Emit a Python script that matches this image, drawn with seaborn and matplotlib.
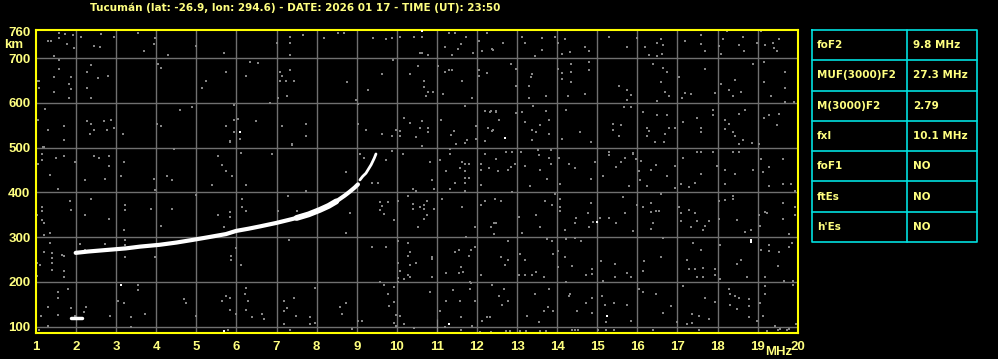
import numpy as np
import pandas as pd
import matplotlib
matplotlib.use("Agg")
import matplotlib.pyplot as plt
import seaborn as sns

# ---------------- data ----------------
title = "Tucumán (lat: -26.9, lon: 294.6) - DATE: 2026 01 17 - TIME (UT): 23:50"
x_ticks = list(range(1, 21))
y_ticks = [100, 200, 300, 400, 500, 600, 700, 760]

# F2 o-trace
o_freq = [1.99, 2.3, 2.7, 3.24, 3.6, 4.08, 4.5, 4.91, 5.3, 5.74, 5.99, 6.3, 6.58,
          7.0, 7.41, 7.8, 8.08, 8.3, 8.49, 8.7, 8.83, 8.95, 9.03]
o_height = [265, 268, 271, 275, 279, 283, 288, 294, 300, 307, 314, 319, 324,
            332, 341, 351, 361, 370, 380, 393, 402, 411, 418]
# thicker middle part of the o-trace
o_thick_freq = [7.5, 7.8, 8.08, 8.3, 8.49]
o_thick_height = [343, 351, 361, 370, 380]
# x-trace
x_freq = [9.08, 9.15, 9.23, 9.36, 9.44, 9.48]
x_height = [428, 436, 443, 462, 477, 486]

# Es-like blob near 2 MHz and vertical bar at 11 MHz
blob_freq = [1.88, 2.15]
blob_height = [120, 120]
bar_freq = [11.0, 11.0]
bar_height = [88, 118]

# isolated white echoes
white_freq = [3.13, 6.09, 12.69, 14.99, 15.24, 10.63, 11.29, 18.84, 18.84, 5.69]
white_height = [194, 535, 521, 334, 125, 761, 105, 293, 289, 90]

# background noise (grey dots), read region by region
noise_f_top_right = [12.40, 12.65, 13.13, 13.19, 13.44, 13.63, 13.63, 13.94, 14.03, 14.19, 14.13, 14.33,
    14.69, 14.79, 15.29, 15.73, 15.98, 16.19, 16.30, 16.48, 16.50, 16.58, 16.61, 16.65, 17.19, 17.58,
    17.58, 17.69, 18.03, 18.13, 18.09, 18.23, 18.53, 18.63, 18.65, 18.98, 19.08, 19.19, 19.38, 19.40,
    19.48, 19.54,
    12.84, 12.98, 12.98, 13.30, 13.34, 13.38, 13.30, 13.73, 14.03, 14.13, 14.13, 14.34, 14.34, 14.34,
    14.26, 14.69, 14.79, 14.79, 15.54, 15.73, 15.73, 15.83, 16.38, 16.63, 16.73, 16.58, 16.69, 16.79,
    16.48, 17.04, 17.19, 17.11, 17.34, 17.69, 17.94, 18.09, 18.28, 18.44, 18.38, 18.59, 18.88, 19.15,
    19.15, 19.34, 19.69, 19.69, 19.69, 19.90,
    12.32, 12.48, 12.55, 12.98, 13.13, 13.19, 13.40, 13.58, 13.73, 13.80, 13.38, 13.48, 13.80, 13.38,
    12.40, 14.13, 14.23, 14.58, 14.84, 15.40, 15.40, 15.59, 15.54, 15.67, 15.83, 16.13, 16.23, 16.30,
    16.23, 16.48, 16.73, 16.69, 16.79, 16.94, 16.44, 16.67, 17.13, 17.48, 17.59, 17.59, 17.88, 17.88,
    18.19, 18.19, 18.28, 18.38, 18.44, 18.53, 18.69, 18.63, 18.53, 18.86, 19.03, 19.15, 19.29, 19.54,
    19.48,
    12.73, 12.88, 13.09, 13.53, 13.84, 15.29, 15.88, 17.48, 17.58, 17.88, 18.38, 18.53]
noise_h_top_right = [719, 735, 748, 735, 704, 746, 719, 748, 735, 743, 709, 713,
    724, 716, 748, 726, 746, 726, 707, 705, 734, 743, 709, 730, 739, 752,
    731, 715, 728, 743, 709, 761, 730, 747, 716, 734, 761, 730, 734, 722,
    717, 743,
    687, 675, 638, 638, 657, 665, 612, 616, 675, 668, 653, 687, 669, 646,
    616, 620, 692, 674, 638, 629, 607, 618, 687, 679, 669, 647, 625, 616,
    605, 657, 623, 612, 620, 676, 623, 642, 629, 652, 616, 625, 687, 692,
    647, 616, 669, 633, 602, 603,
    579, 579, 562, 577, 579, 558, 594, 550, 583, 562, 539, 535, 530, 517,
    539, 520, 585, 535, 512, 552, 539, 551, 526, 590, 590, 579, 544, 538,
    526, 573, 573, 530, 545, 544, 512, 512, 557, 566, 544, 535, 585, 572,
    562, 542, 552, 535, 526, 575, 585, 517, 509, 510, 508, 567, 572, 575,
    550,
    491, 491, 491, 495, 495, 491, 488, 491, 491, 491, 491, 491]

noise_f_mid_right = [12.48, 12.53, 12.73, 12.78, 12.84, 12.94, 13.19, 13.33, 13.55, 13.58, 13.75, 13.80,
    13.84, 14.05, 14.08, 14.29, 14.44, 14.84, 14.94, 15.15, 15.29, 15.48, 15.59, 15.69, 15.80, 15.90,
    15.96, 16.03, 16.08, 16.07, 16.23, 16.34, 16.46, 16.75, 16.94, 16.94, 17.08, 17.13, 17.29, 17.43,
    17.48, 17.58, 17.88, 17.99, 18.19, 18.19, 18.44, 18.53, 18.88, 19.08, 19.13, 19.29, 19.29, 19.63,
    19.63, 19.84, 19.94,
    12.44, 12.59, 12.47, 12.88, 13.05, 13.13, 13.48, 13.58, 13.69, 13.86, 13.94, 14.08, 14.08, 14.08,
    14.19, 14.44, 14.48, 14.78, 14.84, 14.79, 14.90, 15.07, 15.29, 15.48, 15.63, 15.69, 15.90, 15.98,
    16.15, 16.34, 16.34, 16.46, 16.54, 16.38, 16.33, 16.63, 16.59, 17.04, 17.08, 17.08, 17.29, 17.43,
    17.48, 17.34, 17.63, 17.79, 17.69, 18.03, 18.03, 18.19, 18.38, 18.38, 18.48, 18.69, 18.84, 19.03,
    19.05, 19.19, 19.23, 19.63, 19.63, 19.94, 19.94, 19.78,
    12.78, 12.61, 12.78, 12.69, 13.07, 13.19, 13.05, 13.19, 13.38, 13.48, 13.68, 13.75, 13.88, 13.90,
    14.03, 14.03, 14.19, 14.23, 14.38, 14.44, 14.59, 14.73, 14.88, 14.88, 15.09, 15.15, 15.44, 15.44,
    15.73, 15.83, 16.17, 16.13, 16.59, 17.23, 17.29, 17.38, 17.43, 17.58, 17.63, 17.48, 17.65, 17.94,
    17.94, 18.05, 18.07, 18.48, 18.58, 18.73, 19.09, 19.19, 19.28, 19.29, 19.50, 19.53, 19.78, 19.86,
    19.65, 19.88]
noise_h_mid_right = [474, 448, 491, 451, 457, 463, 459, 414, 483, 451, 429, 478,
    463, 478, 418, 463, 454, 431, 469, 437, 483, 456, 469, 478, 414, 486,
    474, 448, 471, 428, 414, 450, 461, 437, 459, 409, 419, 478, 413, 421,
    491, 442, 491, 459, 419, 450, 442, 491, 450, 474, 446, 456, 414, 475,
    419, 419, 404,
    385, 381, 332, 401, 346, 310, 349, 323, 381, 372, 396, 385, 368, 358,
    317, 332, 342, 353, 377, 323, 334, 342, 342, 332, 389, 353, 314, 371,
    368, 377, 357, 359, 359, 332, 318, 299, 396, 368, 353, 337, 360, 353,
    337, 322, 317, 337, 324, 381, 340, 384, 391, 385, 339, 312, 317, 349,
    326, 357, 355, 377, 340, 368, 349, 307,
    292, 256, 249, 238, 262, 249, 215, 215, 215, 223, 212, 295, 292, 262,
    270, 234, 255, 295, 235, 299, 292, 215, 230, 217, 247, 203, 239, 212,
    220, 212, 247, 225, 256, 250, 230, 287, 230, 271, 232, 210, 210, 230,
    215, 282, 206, 239, 249, 210, 272, 210, 269, 282, 235, 267, 277, 287,
    203, 203]

noise_f_bottom = [1.08, 1.13, 1.30, 1.30, 1.54, 1.54, 1.54, 1.79, 1.88, 1.98, 2.19, 2.25, 2.84,
    3.04, 3.19, 3.38, 3.38, 3.54, 3.54, 3.73, 4.69, 4.73, 4.98, 5.63, 5.73, 5.84, 5.84, 5.98, 6.22,
    6.23, 6.28, 6.23, 6.38, 6.63, 6.69, 5.78, 7.19, 7.19, 7.25, 7.19, 7.33, 7.44, 7.48, 7.83, 7.83,
    7.97, 7.97, 8.58, 8.73, 8.63, 8.88, 9.03, 9.13, 9.58, 9.69, 9.78, 9.80, 9.94, 9.94, 9.97, 9.98,
    10.07, 9.94, 10.02, 10.19, 10.44, 10.84, 11.08, 11.23, 11.19, 11.40, 11.58, 11.61, 11.61, 11.83,
    11.83, 11.88, 11.94, 12.07, 12.13, 12.25, 12.33, 12.38, 12.55, 12.36,
    12.67, 12.63, 12.78, 13.25, 13.44, 13.55, 13.67, 13.78, 13.90, 13.80, 14.23, 14.29, 14.33, 14.50,
    14.72, 14.88, 14.88, 15.13, 15.19, 15.22, 15.42, 15.73, 15.83, 16.05, 16.15, 16.47, 16.63, 16.83,
    16.98, 17.13, 17.23, 17.36, 17.36, 17.53, 17.68, 17.78, 17.93, 18.28, 18.31, 18.44, 18.53, 18.31,
    18.48, 18.78, 18.78, 18.78, 18.98, 19.13, 19.18, 19.19, 19.07, 19.44, 19.55, 19.78, 19.88, 19.97,
    12.73, 12.82, 13.07, 13.22, 13.57, 13.73, 14.36, 14.44, 14.53, 15.03, 15.22, 15.42, 16.40, 17.54,
    19.23, 19.52, 19.73]
noise_h_bottom = [93, 125, 143, 102, 177, 164, 127, 185, 142, 123, 132, 143, 125,
    157, 152, 121, 99, 194, 181, 128, 162, 152, 125, 157, 168, 164, 138, 129, 172,
    187, 157, 137, 121, 129, 117, 93, 157, 136, 142, 106, 93, 164, 125, 122, 106,
    187, 108, 143, 152, 129, 95, 112, 112, 199, 194, 174, 146, 189, 155, 127, 101,
    125, 108, 201, 106, 97, 177, 134, 157, 99, 181, 157, 121, 92, 199,
    185, 102, 157, 89, 112, 121, 121, 194, 169, 89,
    184, 149, 157, 125, 174, 110, 134, 144, 134, 184, 199, 169, 172, 134,
    152, 164, 131, 168, 149, 110, 152, 149, 112, 184, 177, 172, 131, 147,
    110, 190, 105, 129, 108, 125, 164, 117, 155, 184, 174, 168, 164, 149,
    139, 162, 146, 121, 112, 123, 190, 172, 152, 101, 95, 95, 194, 105,
    91, 91, 91, 91, 91, 91, 92, 92, 92, 92, 92, 92, 92, 92,
    91, 92, 92]

noise_f_top_left = [1.03, 1.07, 1.07, 1.30, 1.38, 1.44, 1.44, 1.44, 1.23, 1.58, 1.58, 1.58, 1.58,
    1.78, 1.73, 1.78, 1.83, 1.88, 1.88, 1.83, 1.93, 1.94, 2.13, 2.28, 2.28, 2.33, 2.38, 2.38, 2.44,
    2.54, 2.59, 2.63, 2.79, 2.94, 3.55, 3.69, 3.94, 3.98, 4.04, 4.13, 4.29, 4.59, 4.88, 4.98, 5.13,
    5.23, 5.69, 5.73, 5.94, 6.23, 6.34, 6.55, 6.83, 7.00, 7.04, 7.09, 7.13, 7.09, 7.23, 7.25, 7.33,
    7.33, 7.33, 7.33, 7.43, 7.67, 8.19, 8.54, 8.69, 8.75, 8.98, 9.03, 9.29, 9.40, 9.63, 9.73, 9.88,
    9.90, 10.07, 10.19, 10.33, 10.43, 10.53, 10.58, 10.63, 10.63, 10.69, 10.69, 10.78, 10.78, 10.90,
    10.73, 11.03, 11.15, 11.19, 11.19, 11.29, 11.38, 11.29, 11.38, 11.44, 11.53, 11.61, 11.63, 11.69,
    11.73, 11.88, 11.90, 12.04, 12.04, 12.04, 12.13, 12.25, 12.25, 12.38, 12.19, 12.36, 12.48,
    1.05, 1.30, 1.69, 1.69, 1.18, 2.28, 2.38, 2.45, 2.34, 2.69, 2.78, 2.88, 2.94, 3.18, 4.03, 4.13,
    5.73, 5.84, 5.94, 5.94, 6.03, 6.09, 6.48, 7.13, 7.38, 7.73, 7.73, 9.03, 9.24, 9.63, 9.88, 9.98,
    10.09, 10.09, 10.34, 10.49, 10.63, 10.59, 10.78, 10.78, 11.09, 11.34, 11.43, 11.48, 11.69, 11.74,
    11.98, 11.98, 12.19, 12.28, 12.37]
noise_h_top_left = [650, 648, 634, 739, 739, 704, 657, 625, 586, 757, 745, 695, 675,
    762, 754, 732, 643, 657, 631, 612, 751, 722, 748, 670, 634, 762, 685, 612, 728,
    655, 726, 754, 660, 748, 757, 717, 732, 745, 687, 679, 707, 584, 590, 728, 634,
    648, 712, 670, 595, 660, 692, 690, 600, 735, 612, 670, 660, 648, 648, 616, 748,
    735, 707, 674, 648, 751, 745, 757, 757, 647, 606, 598, 630, 746, 665, 743, 745,
    695, 748, 566, 665, 748, 683, 712, 748, 712, 648, 635, 708, 625, 625,
    616, 683, 620, 670, 726, 674, 674, 757, 708, 757, 720, 732, 648, 594,
    748, 612, 711, 739, 674, 660, 717, 757, 668, 720, 581, 581, 581,
    563, 540, 549, 518, 502, 559, 552, 540, 531, 559, 540, 563, 543, 531, 552, 549,
    549, 514, 563, 534, 565, 520, 559, 548, 509, 554, 527, 552, 540, 531, 527, 539,
    537, 527, 555, 523, 559, 544, 544, 534, 563, 529, 537, 509, 511, 518,
    548, 520, 514, 544, 537]

noise_f_mid_left = [1.69, 1.98, 2.44, 2.58, 2.83, 2.83, 3.19, 2.73, 2.23, 3.13, 2.38, 1.84, 1.88,
    2.23, 2.83, 3.23, 3.23, 3.19, 3.94, 3.98, 3.88, 4.11, 4.28, 4.40, 4.44, 4.40, 4.98, 5.38, 5.54,
    5.63, 5.73, 5.88, 5.84, 6.11, 6.14, 6.23, 6.13, 6.23, 5.84, 5.84, 5.53, 5.69, 6.88, 7.03, 7.28,
    7.50, 7.38, 7.73, 8.73, 9.08, 9.17, 9.37, 9.53, 9.57, 9.63, 9.69, 9.58, 9.72, 9.88, 9.93, 9.78,
    8.83, 8.73, 9.38, 9.73, 5.98, 5.86, 6.11, 5.86, 7.32, 3.22, 3.22, 3.23, 3.98, 1.69, 2.11, 2.73,
    2.23,
    10.15, 10.63, 10.83, 10.88, 10.40, 10.48, 10.94, 11.08, 11.23, 11.33, 11.33, 11.44, 11.33, 11.58,
    11.63, 11.69, 11.69, 11.79, 11.69, 11.79, 11.69, 11.69, 12.09, 12.09, 12.19, 12.29, 12.09, 10.29,
    10.04, 10.40, 10.40, 10.59, 10.69, 10.69, 10.75, 10.94, 10.75, 10.69, 10.54, 11.13, 11.63, 11.94,
    12.19, 12.09, 12.36, 12.43, 12.43, 11.72, 10.04, 10.29, 10.34, 10.29, 10.34, 10.04, 10.48, 10.88,
    10.88, 10.09, 10.29, 10.04, 10.34, 10.19, 11.44, 11.54, 11.84, 11.94, 11.79, 11.23, 11.54, 11.59,
    11.64, 12.09, 10.88, 11.84,
    1.20, 1.16, 1.16, 1.49, 1.70, 1.06, 1.34, 1.56, 1.02, 1.14, 1.14, 1.16, 1.20, 1.34, 1.20, 1.34,
    1.20, 1.39, 1.39, 1.64, 1.39, 1.10, 1.02, 1.39, 1.70, 1.70, 1.02]
noise_h_mid_left = [481, 468, 481, 478, 481, 459, 468, 431, 427, 437, 385, 381, 361,
    349, 340, 371, 360, 317, 431, 405, 362, 326, 436, 427, 498, 362, 395, 416, 481,
    461, 448, 436, 513, 489, 386, 416, 367, 358, 356, 345, 349, 323, 485, 358, 393,
    358, 507, 403, 446, 487, 478, 421, 421, 379, 369, 352, 360, 473, 493, 338, 379,
    354, 309, 278, 278, 276, 248, 237, 259, 293, 293, 282, 256, 256, 259, 285, 285,
    271,
    485, 503, 468, 428, 408, 403, 408, 472, 449, 498, 485, 421, 408, 455,
    468, 463, 448, 463, 432, 432, 421, 403, 463, 451, 485, 455, 416, 393,
    381, 375, 362, 367, 371, 362, 380, 362, 349, 340, 323, 385, 367, 323,
    380, 371, 323, 332, 308, 300, 291, 287, 268, 259, 238, 242, 242, 256,
    251, 224, 215, 209, 211, 206, 268, 272, 272, 278, 257, 220, 219, 233,
    223, 215, 211, 198,
    501, 485, 472, 477, 481, 463, 438, 408, 349, 367, 358, 338, 332, 309, 304, 287,
    268, 265, 253, 261, 242, 238, 242, 226, 224, 211, 213]

# right-hand parameter table
table_names = ["foF2", "MUF(3000)F2", "M(3000)F2", "fxI", "foF1", "ftEs", "h'Es"]
table_values = ["9.8 MHz", "27.3 MHz", "2.79", "10.1 MHz", "NO", "NO", "NO"]

# ---------------- styling ----------------
W, H = 998, 359
BG = "black"
TXT = "#ffff80"
AXC = "#ffff00"
GRID = "#707070"
NOISE = "#858585"
CYAN = "#00e0e0"

sns.set_style("dark", {"axes.facecolor": BG, "figure.facecolor": BG})
FONT = ["Liberation Sans", "DejaVu Sans"]
WIDE = ["DejaVu Sans"]
plt.rcParams["font.family"] = FONT

fig = plt.figure(figsize=(W / 100, H / 100), dpi=100)
fig.patch.set_facecolor(BG)

L, R, T, B = 36, 797.7, 30, 332.7
ax = fig.add_axes([L / W, (H - B) / H, (R - L) / W, (B - T) / H])
ax.set_facecolor(BG)

# grid
for xv in x_ticks[1:-1]:
    ax.axvline(xv, color=GRID, lw=1.0, zorder=1)
for yv in y_ticks[:-1]:
    ax.axhline(yv, color=GRID, lw=1.0, zorder=1)

noise = pd.DataFrame({
    "f": noise_f_top_right + noise_f_mid_right + noise_f_bottom + noise_f_top_left + noise_f_mid_left,
    "h": noise_h_top_right + noise_h_mid_right + noise_h_bottom + noise_h_top_left + noise_h_mid_left,
})
sns.scatterplot(data=noise, x="f", y="h", ax=ax, marker="s", s=2.6, color=NOISE,
                linewidth=0, zorder=2, legend=False)

otr = pd.DataFrame({"f": o_freq, "h": o_height})
xtr = pd.DataFrame({"f": x_freq, "h": x_height})
sns.lineplot(data=otr, x="f", y="h", ax=ax, color="white", lw=3.0, sort=False,
             zorder=4, legend=False)
sns.lineplot(x=o_thick_freq, y=o_thick_height, ax=ax, color="white", lw=4.2, sort=False,
             zorder=4, legend=False)
sns.lineplot(data=xtr, x="f", y="h", ax=ax, color="white", lw=2.0, sort=False,
             zorder=4, legend=False)
sns.lineplot(x=blob_freq, y=blob_height, ax=ax, color="white", lw=2.5, zorder=4)
sns.lineplot(x=bar_freq, y=bar_height, ax=ax, color="white", lw=2.0, zorder=4)
sns.scatterplot(x=white_freq, y=white_height, ax=ax, marker="s", s=3, color="white",
                linewidth=0, zorder=4, legend=False)

ax.set_xlim(1, 20)
ax.set_ylim(86.6, 763)
ax.set_xlabel("")
ax.set_ylabel("")
ax.set_xticks(x_ticks)
ax.set_xticklabels([str(v) for v in x_ticks])
ax.set_yticks(y_ticks)
ax.set_yticklabels([str(v) for v in y_ticks])
ax.tick_params(axis="both", length=0, colors=TXT, labelsize=9.5)
ax.tick_params(axis="x", pad=6)
ax.tick_params(axis="y", pad=4)
for lab in ax.get_xticklabels() + ax.get_yticklabels():
    lab.set_fontweight("bold")
    lab.set_color(TXT)
    lab.set_family(FONT)
for sp in ax.spines.values():
    sp.set_visible(True)
    sp.set_color(AXC)
    sp.set_linewidth(1.5)
ax.grid(False)

# overlay axes in pixel coordinates for text and table
ov = fig.add_axes([0, 0, 1, 1], facecolor="none")
ov.set_xlim(0, W)
ov.set_ylim(H, 0)
ov.axis("off")

ov.text(90, 8, title, color=TXT, fontsize=7.45, fontweight="bold", ha="left", va="center", family=WIDE)
ov.text(14, 45, "km", color=TXT, fontsize=9.5, fontweight="bold", ha="center", va="center", family=FONT)
ov.text(779, 352, "MHz", color=TXT, fontsize=9.5, fontweight="bold", ha="center", va="center", family=FONT)

# table
tx0, tx1, txm = 812, 977, 907
ty0, ty1 = 30, 242
n = len(table_names)
rh = (ty1 - ty0) / n
ov.plot([tx0, tx1, tx1, tx0, tx0], [ty0, ty0, ty1, ty1, ty0], color=CYAN, lw=1.2)
ov.plot([txm, txm], [ty0, ty1], color=CYAN, lw=1.2)
for i in range(1, n):
    ov.plot([tx0, tx1], [ty0 + i * rh, ty0 + i * rh], color=CYAN, lw=1.2)
for i, (nm, vl) in enumerate(zip(table_names, table_values)):
    yc = ty0 + (i + 0.5) * rh
    ov.text(tx0 + 5, yc, nm, color=TXT, fontsize=7.5, fontweight="bold", ha="left", va="center", family=WIDE)
    ov.text(txm + 6, yc, vl, color=TXT, fontsize=7.5, fontweight="bold", ha="left", va="center", family=WIDE)

fig.savefig("out.png", dpi=100, facecolor=BG)
